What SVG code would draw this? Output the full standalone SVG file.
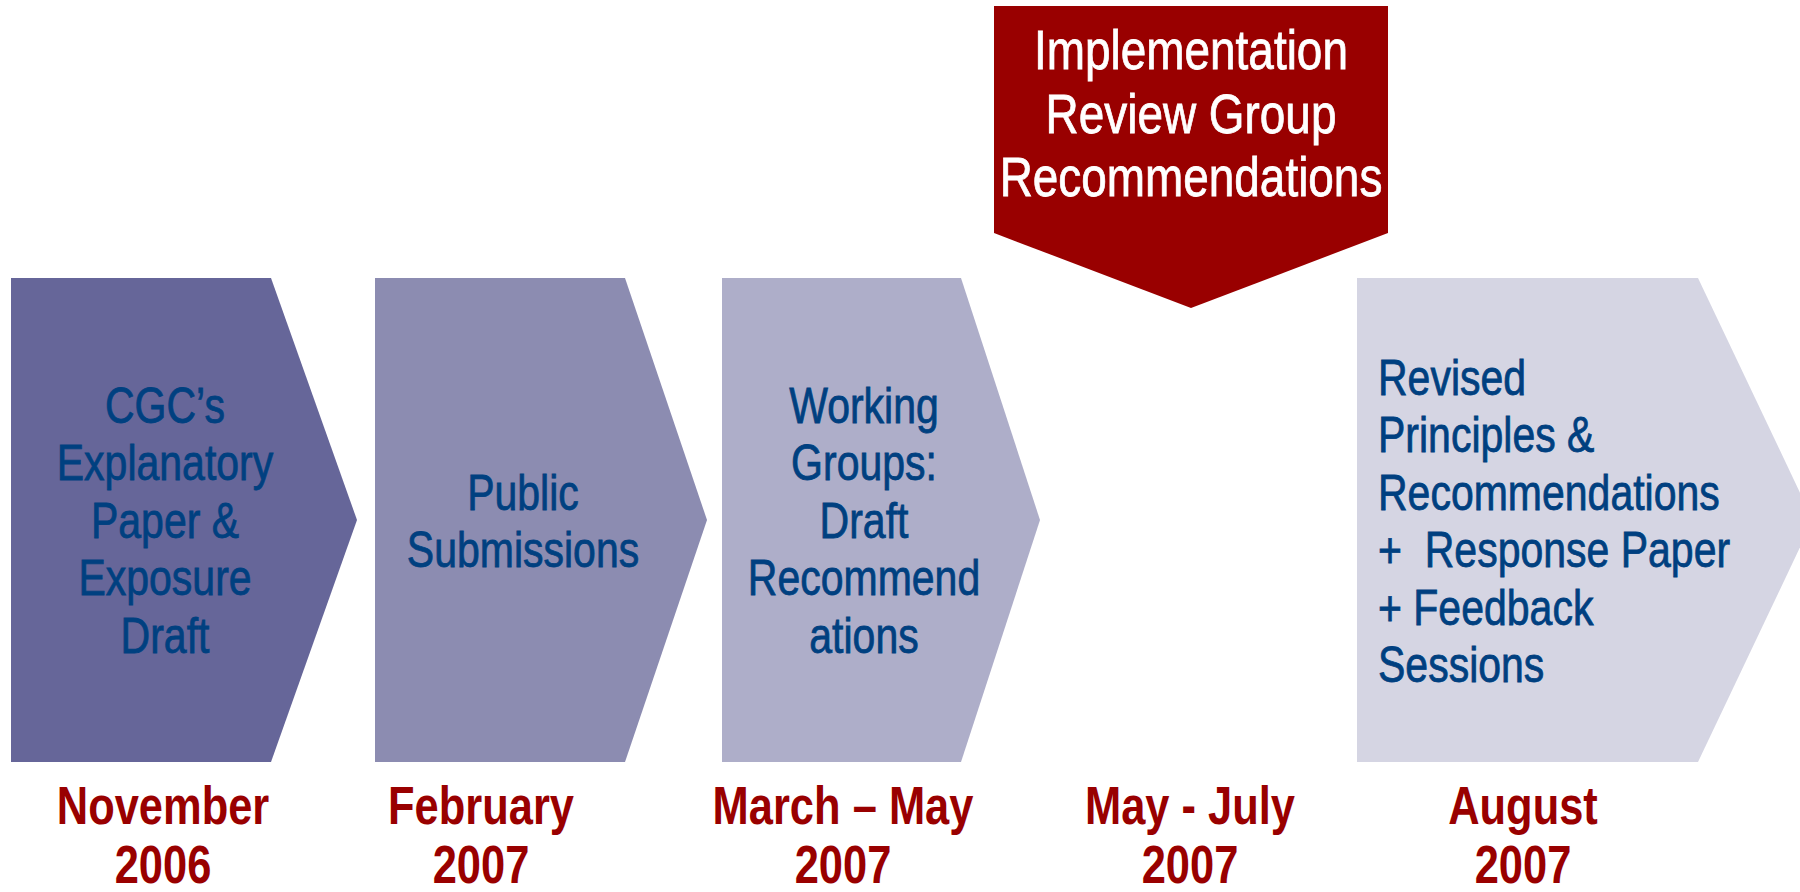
<svg xmlns="http://www.w3.org/2000/svg" width="1800" height="892" viewBox="0 0 1800 892">
<style>
.bt{font-family:"Liberation Sans",Arial,sans-serif;font-size:50px;fill:#004080;stroke:#004080;stroke-width:0.8px;}
.c{text-anchor:middle;}
.rt{font-family:"Liberation Sans",Arial,sans-serif;font-size:56px;fill:#ffffff;stroke:#ffffff;stroke-width:0.8px;text-anchor:middle;}
.dt{font-family:"Liberation Sans",Arial,sans-serif;font-size:53px;font-weight:bold;fill:#990000;text-anchor:middle;}
</style>
<rect width="1800" height="892" fill="#ffffff"/>
<g id="step1">
<polygon points="11,278 271,278 357,520 271,762 11,762" fill="#666699"/>
<text class="bt c" transform="matrix(0.82 0 0 1 165 0)"><tspan x="0" y="423">CGC’s</tspan><tspan x="0" y="480">Explanatory</tspan><tspan x="0" y="538">Paper &amp;</tspan><tspan x="0" y="595">Exposure</tspan><tspan x="0" y="653">Draft</tspan></text>
<text class="dt" transform="matrix(0.82 0 0 1 163 0)"><tspan x="0" y="824">November</tspan><tspan x="0" y="883">2006</tspan></text>
</g>
<g id="step2">
<polygon points="375,278 625,278 707,520 625,762 375,762" fill="#8C8CB1"/>
<text class="bt c" transform="matrix(0.82 0 0 1 523 0)"><tspan x="0" y="510">Public</tspan><tspan x="0" y="567">Submissions</tspan></text>
<text class="dt" transform="matrix(0.82 0 0 1 481 0)"><tspan x="0" y="824">February</tspan><tspan x="0" y="883">2007</tspan></text>
</g>
<g id="step3">
<polygon points="722,278 961,278 1040,520 961,762 722,762" fill="#AEAEC9"/>
<text class="bt c" transform="matrix(0.82 0 0 1 864 0)"><tspan x="0" y="423">Working</tspan><tspan x="0" y="480">Groups:</tspan><tspan x="0" y="538">Draft</tspan><tspan x="0" y="595">Recommend</tspan><tspan x="0" y="653">ations</tspan></text>
<text class="dt" transform="matrix(0.82 0 0 1 843 0)"><tspan x="0" y="824">March – May</tspan><tspan x="0" y="883">2007</tspan></text>
</g>
<g id="step4">
<polygon points="994,6 1388,6 1388,233 1191,308 994,233" fill="#990000"/>
<text class="rt" transform="matrix(0.82 0 0 1 1191 0)"><tspan x="0" y="69">Implementation</tspan><tspan x="0" y="133">Review Group</tspan><tspan x="0" y="196">Recommendations</tspan></text>
<text class="dt" transform="matrix(0.82 0 0 1 1190 0)"><tspan x="0" y="824">May - July</tspan><tspan x="0" y="883">2007</tspan></text>
</g>
<g id="step5">
<polygon points="1357,278 1698,278 1813,520 1698,762 1357,762" fill="#D5D5E3"/>
<text class="bt" xml:space="preserve" transform="matrix(0.82 0 0 1 1378 0)"><tspan x="0" y="395">Revised</tspan><tspan x="0" y="452">Principles &amp;</tspan><tspan x="0" y="510">Recommendations</tspan><tspan x="0" y="567">+  Response Paper</tspan><tspan x="0" y="625">+ Feedback</tspan><tspan x="0" y="682">Sessions</tspan></text>
<text class="dt" transform="matrix(0.82 0 0 1 1523 0)"><tspan x="0" y="824">August</tspan><tspan x="0" y="883">2007</tspan></text>
</g>
<g id="connectors"></g>
</svg>
